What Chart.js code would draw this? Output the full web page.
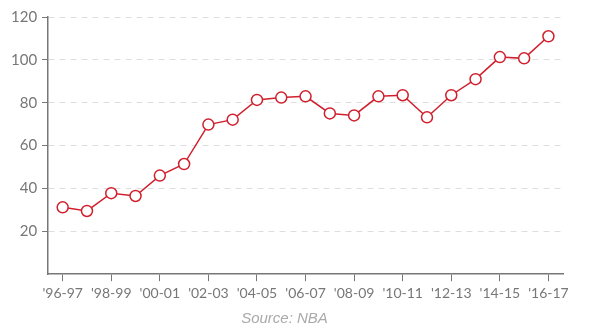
<!DOCTYPE html>
<html>
<head>
<meta charset="utf-8">
<script src="https://cdn.jsdelivr.net/npm/chart.js@4"></script>
<style>
  html, body { margin: 0; padding: 0; background: #fff; }
  #wrap { width: 600px; height: 334px; position: relative; }
</style>
</head>
<body>
<div id="wrap"><canvas id="grafico"></canvas></div>
<script>
const temporadas = ["'96-97", "'97-98", "'98-99", "'99-00", "'00-01", "'01-02", "'02-03",
  "'03-04", "'04-05", "'05-06", "'06-07", "'07-08", "'08-09", "'09-10", "'10-11",
  "'11-12", "'12-13", "'13-14", "'14-15", "'15-16", "'16-17"];
const valores = [31.2, 29.5, 37.8, 36.5, 46, 51.4, 69.8, 72.1, 81.3, 82.4, 83,
  75, 74.1, 83, 83.5, 73.2, 83.5, 91, 101.3, 100.7, 111];
const ticksY = [20, 40, 60, 80, 100, 120];

const rojo = '#d0202e';
const gris = '#777';

const ctx = document.getElementById('grafico').getContext('2d');

const grafico = new Chart(ctx, {
  type: 'line',
  data: {
    datasets: [{
      data: valores.map((v, i) => ({ x: i, y: v })),
      borderColor: rojo,
      borderWidth: 1.5,
      backgroundColor: '#fff',
      pointRadius: 5.5,
      pointBorderWidth: 1.5,
      pointBackgroundColor: '#fff',
      pointBorderColor: rojo,
      tension: 0,
      fill: false
    }]
  },
  options: {
    responsive: true,
    maintainAspectRatio: false,
    animation: false,
    layout: { padding: { left: 6, right: 37, top: 17, bottom: 6 } },
    plugins: {
      legend: { display: false },
      tooltip: { enabled: false },
      title: {
        display: true,
        position: 'bottom',
        text: 'Source: NBA',
        color: '#aaa',
        font: { family: 'Liberation Sans', size: 15, style: 'italic', weight: 'normal' },
        padding: { top: 4, bottom: 0 }
      }
    },
    scales: {
      x: {
        type: 'linear',
        min: -0.6,
        max: 20.6,
        afterBuildTicks: (scale) => {
          scale.ticks = temporadas.map((t, i) => ({ value: i })).filter(t => t.value % 2 === 0);
        },
        ticks: {
          callback: (v) => temporadas[v],
          color: gris,
          font: { family: 'Lato', size: 14 },
          maxRotation: 0,
          autoSkip: false,
          padding: 4
        },
        grid: { drawOnChartArea: false, drawTicks: true, tickLength: 7, tickColor: gris },
        border: { color: gris, width: 1.5 }
      },
      y: {
        min: 0,
        max: 120,
        afterBuildTicks: (scale) => {
          scale.ticks = [0].concat(ticksY).map(v => ({ value: v }));
        },
        ticks: {
          callback: (v) => v === 0 ? '' : v,
          color: gris,
          font: { family: 'Lato', size: 15 },
          padding: 5
        },
        grid: {
          color: (c) => c.tick && c.tick.value === 0 ? 'rgba(0,0,0,0)' : '#dedede',
          tickLength: 6,
          tickColor: (c) => c.tick && c.tick.value === 0 ? 'rgba(0,0,0,0)' : gris,
          tickBorderDash: [],
          lineWidth: 1
        },
        border: { color: gris, width: 1.5, dash: [6, 5] }
      }
    }
  }
});
</script>
</body>
</html>
